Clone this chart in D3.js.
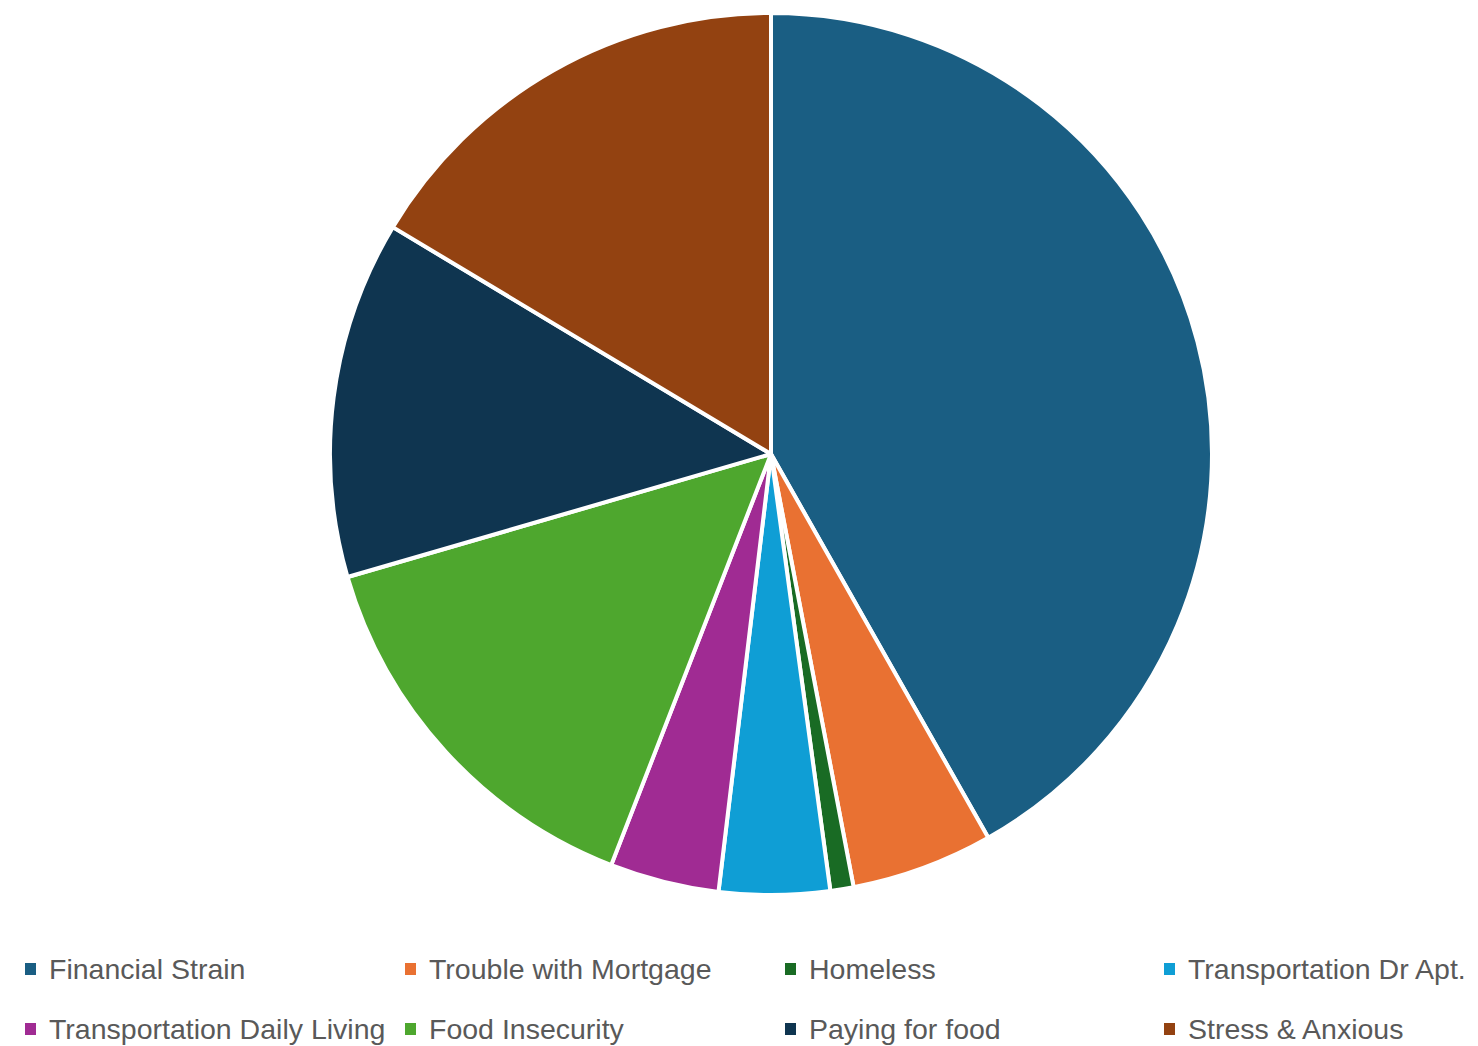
<!DOCTYPE html>
<html>
<head>
<meta charset="utf-8">
<script src="https://cdn.jsdelivr.net/npm/d3@7"></script>
<style>
  html, body { margin: 0; padding: 0; background: #ffffff; }
  svg { display: block; }
</style>
</head>
<body>
<svg id="chart" width="1478" height="1046"></svg>
<script>
const categories = [
  "Financial Strain",
  "Trouble with Mortgage",
  "Homeless",
  "Transportation Dr Apt.",
  "Transportation Daily Living",
  "Food Insecurity",
  "Paying for food",
  "Stress & Anxious"
];
const values = [41.8, 5.2, 0.85, 4.05, 4.0, 14.6, 13.1, 16.4];
const colors = ["#1A5E83", "#E97132", "#196B24", "#0F9ED5", "#A02B93", "#4EA72E", "#0F3550", "#934211"];

const svg = d3.select("#chart");
const cx = 771, cy = 454, R = 441;

const data = categories.map((c, i) => ({ name: c, value: values[i], color: colors[i] }));

const pie = d3.pie().sort(null).value(d => d.value);
const arc = d3.arc().innerRadius(0).outerRadius(R);

const g = svg.append("g").attr("transform", `translate(${cx},${cy})`);
g.selectAll("path")
  .data(pie(data))
  .join("path")
  .attr("d", arc)
  .attr("fill", d => d.data.color)
  .attr("stroke", "#ffffff")
  .attr("stroke-width", 4)
  .attr("stroke-linejoin", "round");

// Legend: 4 columns, 2 rows
const colX = [25, 405, 785, 1164];
const rowY = [969, 1029];
const legend = svg.append("g");
data.forEach((d, i) => {
  const col = i % 4, row = Math.floor(i / 4);
  const x = colX[col], y = rowY[row];
  const item = legend.append("g").attr("transform", `translate(${x},${y})`);
  item.append("rect")
    .attr("x", 0).attr("y", -6).attr("width", 11).attr("height", 12)
    .attr("fill", d.color);
  item.append("text")
    .attr("x", 24).attr("y", 0)
    .attr("dy", "0.36em")
    .attr("font-family", "'Liberation Sans', Arial, sans-serif")
    .attr("font-size", 28.5)
    .attr("fill", "#595959")
    .text(d.name);
});
</script>
</body>
</html>
